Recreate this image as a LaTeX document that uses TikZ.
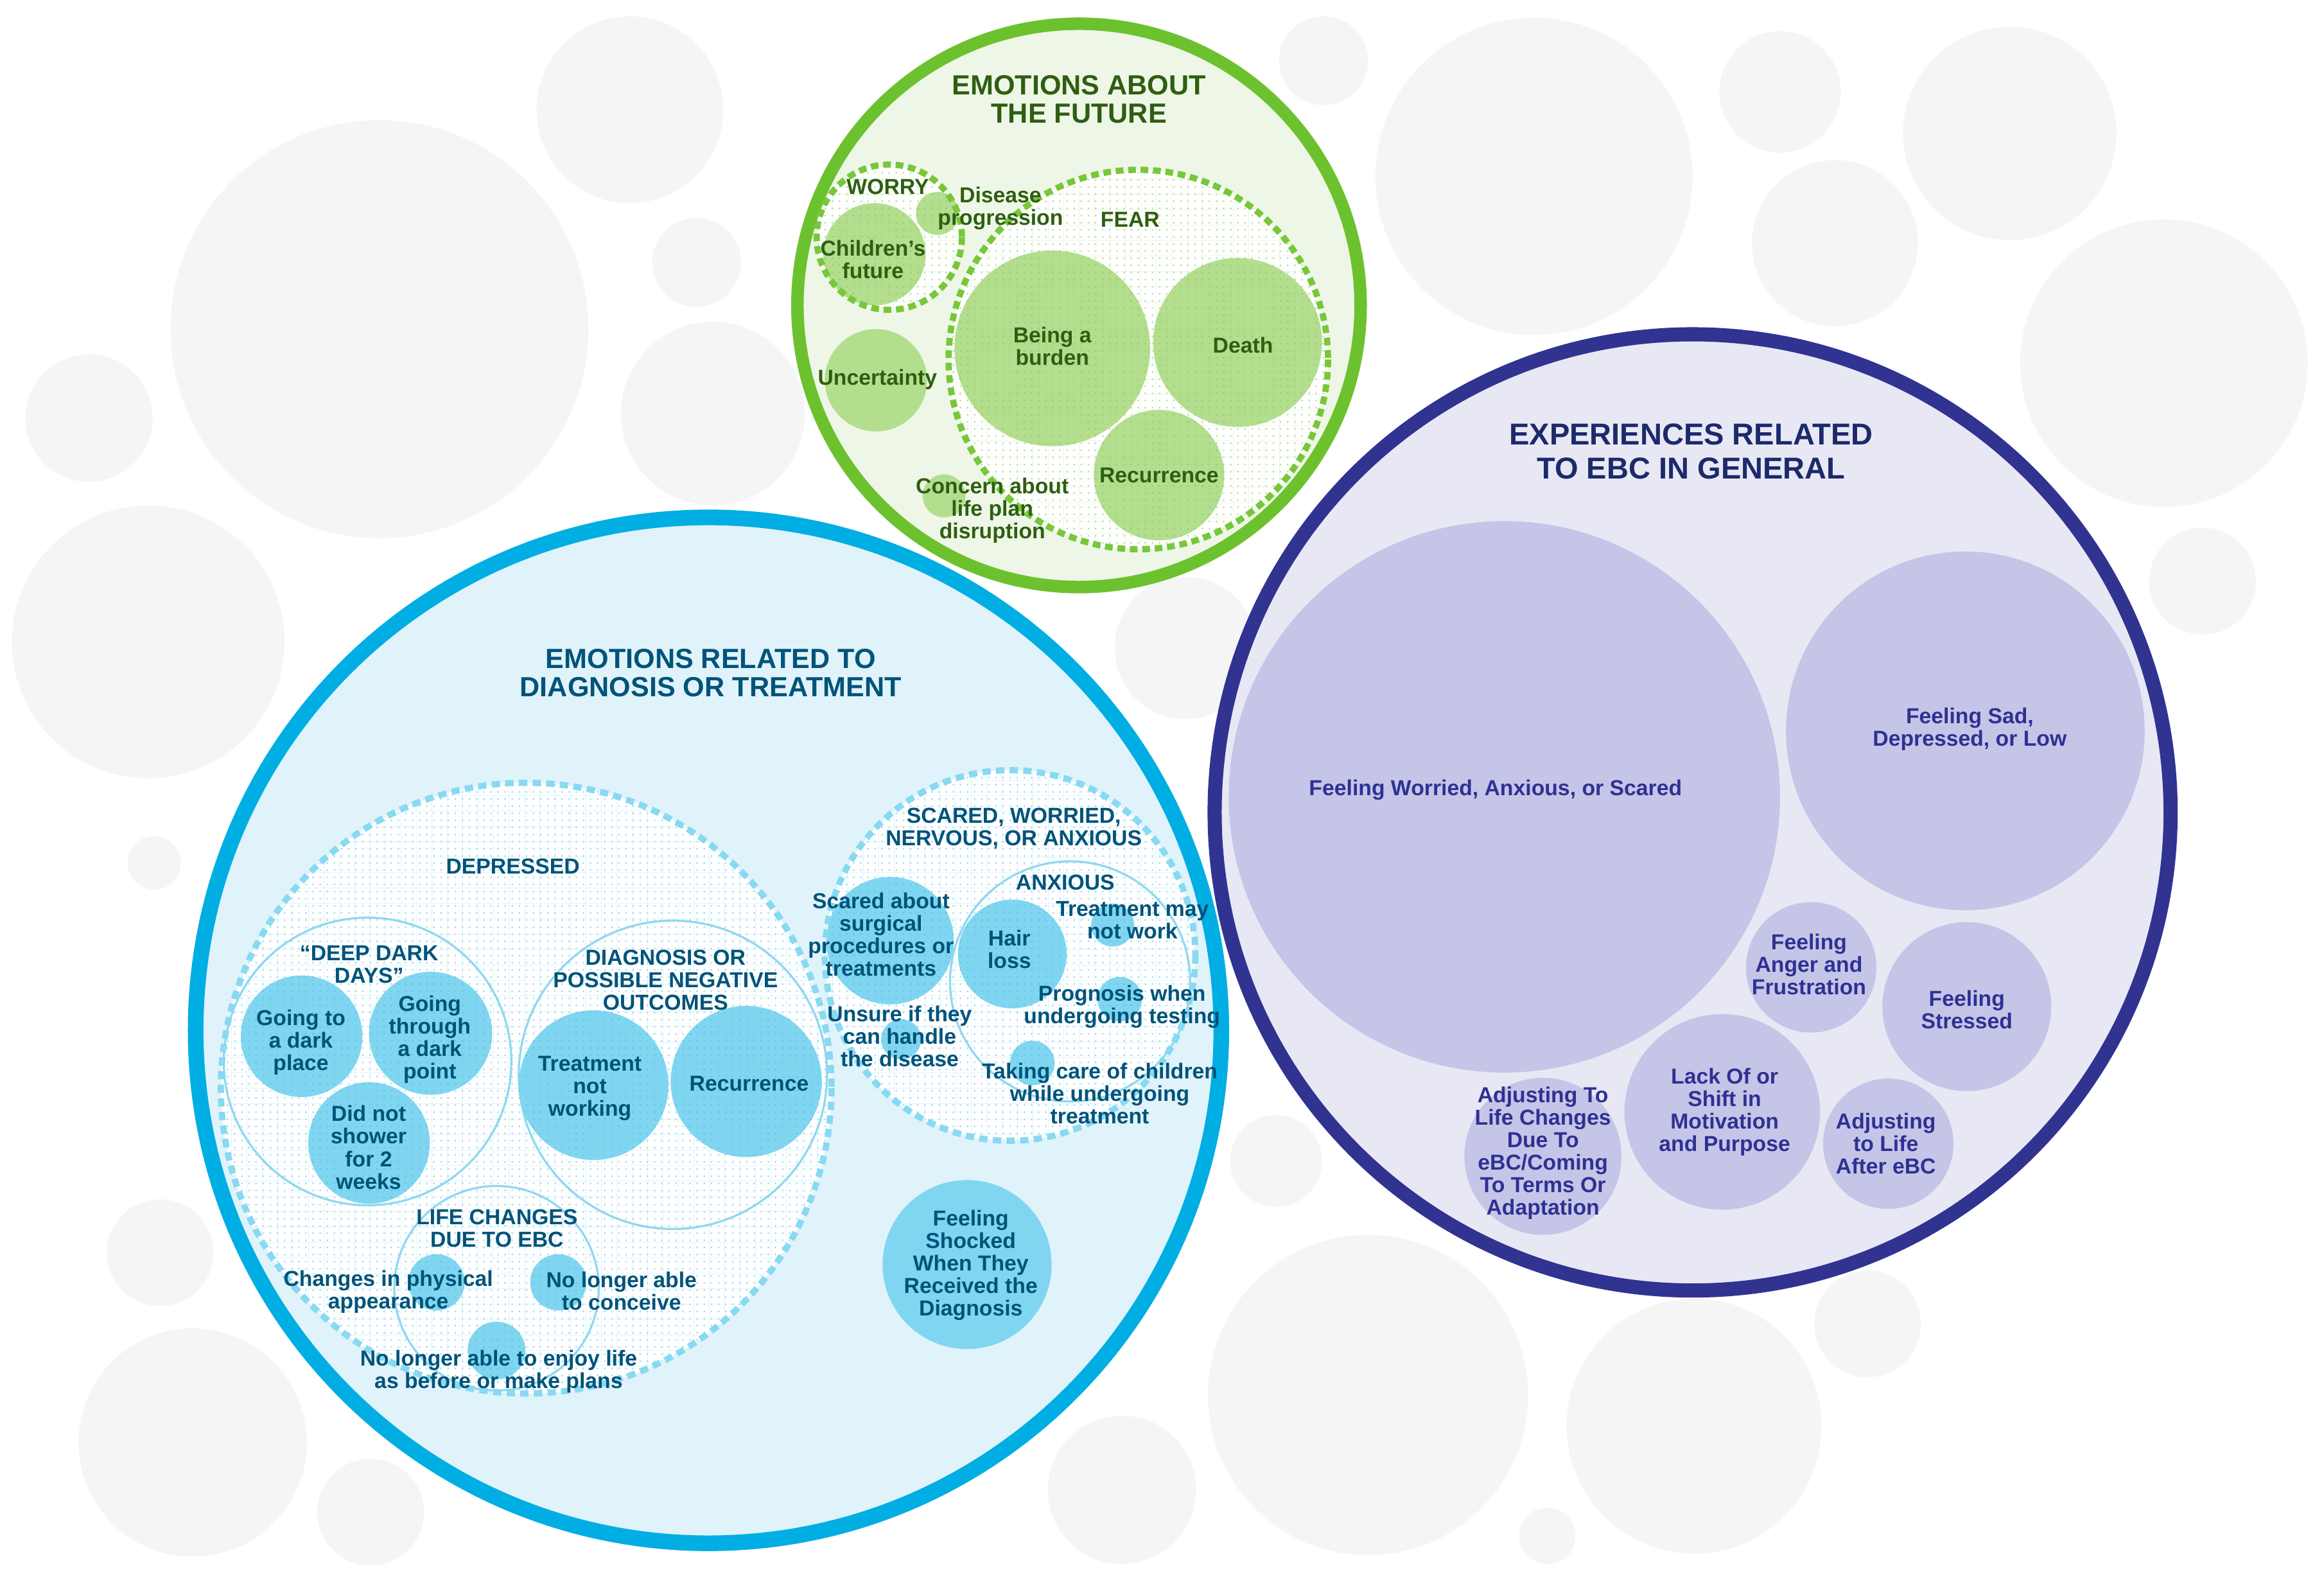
\documentclass[tikz,border=0pt]{standalone}
\usepackage{fontspec}
\setmainfont{Liberation Sans}
\usetikzlibrary{patterns.meta}
\definecolor{greyc}{HTML}{F5F5F5}
\definecolor{grnline}{HTML}{6CC22E}
\definecolor{grnfill}{HTML}{EEF7E7}
\definecolor{grnbub}{HTML}{B3DE8E}
\definecolor{grndot}{HTML}{BDE4A0}
\definecolor{grndotdk}{HTML}{9CCF74}
\definecolor{grngrid}{HTML}{EDF6E6}
\definecolor{grntext}{HTML}{2F5E12}
\definecolor{grndash}{HTML}{78C73A}
\definecolor{bluline}{HTML}{00AEE3}
\definecolor{blufill}{HTML}{E0F3FA}
\definecolor{blububble}{HTML}{80D6F0}
\definecolor{bludot}{HTML}{A8DFF3}
\definecolor{bludotdk}{HTML}{66C6E6}
\definecolor{blugrid}{HTML}{E0F4FB}
\definecolor{bluring}{HTML}{8FD8F0}
\definecolor{blutext}{HTML}{005379}
\definecolor{bludash}{HTML}{88D9F2}
\definecolor{purline}{HTML}{313391}
\definecolor{purfill}{HTML}{E8E8F5}
\definecolor{purbub}{HTML}{C5C5E8}
\definecolor{purtext}{HTML}{2E3192}
\definecolor{purtitle}{HTML}{1C2A6B}
\begin{document}
\begin{tikzpicture}[x=0.25mm, y=-0.25mm,
    lbl/.style={font=\fontsize{10.4}{10.8}\selectfont\bfseries, align=center, inner sep=0pt},
    ttl/.style={font=\fontsize{13.3}{13.4}\selectfont\bfseries, align=center, inner sep=0pt},
    gbub/.style={fill=grnbub},
    gbubd/.style={fill=grnbub, postaction={pattern={Dots[distance=1.2mm, radius=0.17mm]}, pattern color=grndotdk}},
    bbub/.style={fill=blububble},
    bbubd/.style={fill=blububble, postaction={pattern={Dots[distance=1.2mm, radius=0.17mm]}, pattern color=bludotdk}},
    pbub/.style={fill=purbub},
    gzone/.style={fill=white, postaction={pattern={Hatch[distance=2.6mm, angle=0, line width=0.1mm]}, pattern color=grngrid},
        postaction={pattern={Dots[distance=1.2mm, radius=0.18mm]}, pattern color=grndot}},
    bzone/.style={fill=white, postaction={pattern={Hatch[distance=2.6mm, angle=0, line width=0.1mm]}, pattern color=blugrid},
        postaction={pattern={Dots[distance=1.2mm, radius=0.18mm]}, pattern color=bludot}},
    gdash/.style={draw=grndash, line width=1.05mm, dash pattern=on 1.3mm off 0.8mm},
    bdash/.style={draw=bludash, line width=1.05mm, dash pattern=on 1.4mm off 0.9mm},
    ring/.style={draw=bluring, line width=0.35mm}]
\useasboundingbox (0,0) rectangle (1568,1067);

% 1. Grey background bubbles
\foreach \cx/\cy/\r in {256/222/141, 425/74/63, 470/177/30, 60/282/43, 481/279/62,
    100/433/92, 104/582/18, 108/845/36, 130/973/77, 250/1020/36, 757/1005/50,
    923/941/108, 1044/1036/19, 1143/962/86, 1260/893/36, 861/783/31, 800/437/48,
    893/41/30, 1035/119/107, 1201/62/41, 1238/164/56, 1356/90/72, 1460/245/97, 1486/392/36}
    \fill[greyc] (\cx,\cy) circle (\r);

% 2. Emotions related to diagnosis or treatment
\draw[bluline, fill=blufill, line width=7.5pt] (478,695) circle (346);
\fill[bzone] (355,734) circle (206);
\fill[bzone] (681.5,644.5) circle (125);
\draw[ring] (248,716) circle (97);
\draw[ring] (454,725) circle (104);
\draw[ring] (335,869) circle (69);
\draw[ring] (722,662) circle (81);
\fill[bbubd] (203.5,699) circle (41);
\fill[bbubd] (290.5,697) circle (41.5);
\fill[bbubd] (249,771) circle (41);
\fill[bbubd] (400.5,732) circle (50.5);
\fill[bbubd] (503.5,729.5) circle (51);
\fill[bbubd] (294.5,865) circle (19);
\fill[bbubd] (376.7,865) circle (19);
\fill[bbubd] (335,911) circle (19.5);
\fill[bbubd] (600.5,634.5) circle (43);
\fill[bbubd] (683,643.5) circle (36.7);
\fill[bbubd] (750.7,624) circle (14.5);
\fill[bbubd] (755.5,674) circle (15);
\fill[bbubd] (608,701) circle (13.5);
\fill[bbubd] (696.5,717) circle (15);
\fill[bbub] (652.5,853) circle (57);
\draw[bdash] (355,734) circle (206);
\draw[bdash] (681.5,644.5) circle (125);

\begin{scope}[text=blutext]
\node[ttl] (btitle) at (479.5,454) {EMOTIONS RELATED TO\\DIAGNOSIS OR TREATMENT};
\node[lbl] (depressed) at (346,584.5) {DEPRESSED};
\node[lbl] (deepdark) at (249,650.5) {“DEEP DARK\\DAYS”};
\node[lbl] (darkplace) at (203,703) {Going to\\a dark\\place};
\node[lbl] (darkpoint) at (290,701) {Going\\through\\a dark\\point};
\node[lbl] (shower) at (248.7,774) {Did not\\shower\\for 2\\weeks};
\node[lbl] (negative) at (449,661) {DIAGNOSIS OR\\POSSIBLE NEGATIVE\\OUTCOMES};
\node[lbl] (notworking) at (398,734) {Treatment\\not\\working};
\node[lbl] (brecur) at (505.4,731) {Recurrence};
\node[lbl] (lifechange) at (335.3,828.5) {LIFE CHANGES\\DUE TO EBC};
\node[lbl] (physical) at (262,871.5) {Changes in physical\\appearance};
\node[lbl] (conceive) at (419.3,871) {No longer able\\to conceive};
\node[lbl] (enjoy) at (336.4,925) {No longer able to enjoy life\\as before or make plans};
\node[lbl] (scaredttl) at (684,559) {SCARED, WORRIED,\\NERVOUS, OR ANXIOUS};
\node[lbl] (surgical) at (594.4,630.5) {Scared about\\surgical\\procedures or\\treatments};
\node[lbl] (anxious) at (718.7,595.4) {ANXIOUS};
\node[lbl] (hairloss) at (681,640.2) {Hair\\loss};
\node[lbl] (maynot) at (764,620.7) {Treatment may\\not work};
\node[lbl] (testing) at (757,679) {Prognosis when\\undergoing testing};
\node[lbl] (unsure) at (607,699.2) {Unsure if they\\can handle\\the disease};
\node[lbl] (children) at (742,737.5) {Taking care of children\\while undergoing\\treatment};
\node[lbl] (shocked) at (655,853.5) {Feeling\\Shocked\\When They\\Received the\\Diagnosis};
\end{scope}

% 3. Emotions about the future
\draw[grnline, fill=grnfill, line width=6pt] (728,206) circle (190);
\fill[gzone] (600,160) circle (49);
\fill[gzone] (768,242.5) circle (128);
\fill[gbubd] (590,171.5) circle (34.5);
\fill[gbubd] (632.5,144) circle (14.5);
\fill[gbubd] (710,235) circle (66);
\fill[gbubd] (835,231) circle (57);
\fill[gbubd] (782,320.5) circle (44);
\fill[gbub] (591,256.5) circle (34.5);
\fill[gbub] (637,334.5) circle (14.5);
\draw[gdash] (600,160) circle (49);
\draw[gdash] (768,242.5) circle (128);

\begin{scope}[text=grntext]
\node[ttl] (gtitle) at (728,67) {EMOTIONS ABOUT\\THE FUTURE};
\node[lbl] (worry) at (599,126) {WORRY};
\node[lbl] (progress) at (675,140.5) {Disease\\progression};
\node[lbl] (fear) at (762.5,148) {FEAR};
\node[lbl] (future) at (589,175) {Children’s\\future};
\node[lbl] (burden) at (710,233.5) {Being a\\burden};
\node[lbl] (death) at (838.6,233) {Death};
\node[lbl] (uncertain) at (592,256) {Uncertainty};
\node[lbl] (grecur) at (782,320.7) {Recurrence};
\node[lbl] (lifeplan) at (669.5,344.4) {Concern about\\life plan\\disruption};
\end{scope}

% 4. Experiences related to eBC in general
\draw[purline, fill=purfill, line width=6.8pt] (1142,548) circle (322.5);
\fill[pbub] (1015,537.5) circle (186);
\fill[pbub] (1326,493) circle (121);
\fill[pbub] (1222,652.5) circle (44);
\fill[pbub] (1327,679) circle (57);
\fill[pbub] (1162,750) circle (66);
\fill[pbub] (1274,771.5) circle (44);
\fill[pbub] (1041,780) circle (53);

\node[font=\fontsize{14.5}{16.6}\selectfont\bfseries, align=center, inner sep=0pt, text=purtitle]
    (ptitle) at (1141,304.5) {EXPERIENCES RELATED\\TO EBC IN GENERAL};
\begin{scope}[text=purtext]
\node[lbl] (worried) at (1009,533) {Feeling Worried, Anxious, or Scared};
\node[lbl] (sad) at (1329,491.8) {Feeling Sad,\\Depressed, or Low};
\node[lbl] (anger) at (1220.5,650.4) {Feeling\\Anger and\\Frustration};
\node[lbl] (stressed) at (1327,681) {Feeling\\Stressed};
\node[lbl] (motivation) at (1163.6,750) {Lack Of or\\Shift in\\Motivation\\and Purpose};
\node[lbl] (afterebc) at (1272.4,771.3) {Adjusting\\to Life\\After eBC};
\node[lbl] (adapt) at (1041,777.8) {Adjusting To\\Life Changes\\Due To\\eBC/Coming\\To Terms Or\\Adaptation};
\end{scope}
\end{tikzpicture}
\end{document}
